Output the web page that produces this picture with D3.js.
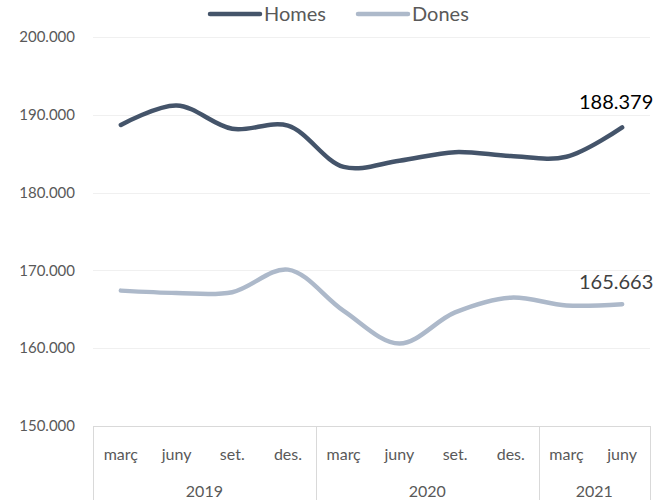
<!DOCTYPE html>
<meta charset="utf-8" />
<script src="https://d3js.org/d3.v7.min.js"></script>
<style>
  body { margin: 0; background: #fff; }
  text { font-family: Lato, "Open Sans", sans-serif; }
</style>
<body>
  <div id="chart"></div>
  <script>
    // data
    var months = ["març", "juny", "set.", "des.", "març", "juny", "set.", "des.", "març", "juny"];
    var years = ["2019", "2020", "2021"];
    var yearCounts = [4, 4, 2];
    var homes = [188700, 191200, 188200, 188600, 183300, 184100, 185200, 184700, 184600, 188379];
    var dones = [167400, 167100, 167200, 170100, 164800, 160600, 164600, 166500, 165500, 165663];
    var yTicks = [150000, 160000, 170000, 180000, 190000, 200000];

    var W = 672, H = 500;
    var mLeft = 93, mRight = 650, mTop = 37, mBottom = 426;

    var svg = d3.select("#chart").append("svg")
      .attr("width", W).attr("height", H);

    var x = d3.scaleBand().domain(d3.range(months.length)).range([mLeft, mRight]);
    var y = d3.scaleLinear().domain([150000, 200000]).range([mBottom, mTop]);

    var loc = d3.formatLocale({ decimal: ",", thousands: ".", grouping: [3], currency: ["", ""] });
    var fmt = loc.format(",");

    // gridlines
    svg.append("g").selectAll("line").data(yTicks.slice(1)).enter().append("line")
      .attr("x1", mLeft).attr("x2", mRight)
      .attr("y1", function (d) { return Math.round(y(d)) + 0.5; })
      .attr("y2", function (d) { return Math.round(y(d)) + 0.5; })
      .attr("stroke", "#f0f0f0").attr("stroke-width", 1);

    // y labels
    svg.append("g").selectAll("text").data(yTicks).enter().append("text")
      .attr("x", 75).attr("y", function (d) { return y(d); })
      .attr("dy", "0.35em").attr("text-anchor", "end")
      .style("font-size", "15px").attr("fill", "#595959")
      .text(function (d) { return fmt(d); });

    // x axis box
    var axisG = svg.append("g").attr("stroke", "#d9d9d9").attr("stroke-width", 1);
    axisG.append("line").attr("x1", mLeft).attr("x2", mRight)
      .attr("y1", mBottom + 0.5).attr("y2", mBottom + 0.5);
    var acc = 0;
    var bounds = [0];
    yearCounts.forEach(function (c) { acc += c; bounds.push(acc); });
    function boundX(b) { return b < months.length ? x(b) : mRight; }
    bounds.forEach(function (b) {
      var px = Math.round(boundX(b)) + 0.5;
      axisG.append("line").attr("x1", px).attr("x2", px)
        .attr("y1", mBottom).attr("y2", H);
    });

    svg.append("g").selectAll("text").data(months).enter().append("text")
      .attr("x", function (d, i) { return x(i) + x.bandwidth() / 2; })
      .attr("y", 454).attr("dy", "0.35em").attr("text-anchor", "middle")
      .style("font-size", "16px").attr("fill", "#595959")
      .text(function (d) { return d; });

    // year labels sit partly below the bottom edge, as in the original
    svg.append("g").selectAll("text").data(years).enter().append("text")
      .attr("x", function (d, i) { return (boundX(bounds[i]) + boundX(bounds[i + 1])) / 2; })
      .attr("y", 491).attr("dy", "0.35em").attr("text-anchor", "middle")
      .style("font-size", "16px").attr("fill", "#595959")
      .text(function (d) { return d; });

    // lines
    var line = d3.line()
      .x(function (d, i) { return x(i) + x.bandwidth() / 2; })
      .y(function (d) { return y(d); })
      .curve(d3.curveCatmullRom);

    var series = [
      { name: "Homes", values: homes, color: "#44546a", labelDy: -25, labelColor: "#000000" },
      { name: "Dones", values: dones, color: "#adb9ca", labelDy: -22, labelColor: "#404040" }
    ];

    series.forEach(function (s) {
      svg.append("path").datum(s.values)
        .attr("d", line).attr("fill", "none")
        .attr("stroke", s.color).attr("stroke-width", 4.5)
        .attr("stroke-linecap", "round").attr("stroke-linejoin", "round");
      var last = s.values.length - 1;
      svg.append("text")
        .attr("x", x(last) + x.bandwidth() / 2 - 6)
        .attr("y", y(s.values[last]) + s.labelDy)
        .attr("dy", "0.35em").attr("text-anchor", "middle")
        .style("font-size", "20px").attr("fill", s.labelColor)
        .text(fmt(s.values[last]));
    });

    // legend
    var legend = svg.append("g");
    var lx = [208, 356];
    series.forEach(function (s, i) {
      legend.append("line")
        .attr("x1", lx[i] + 2).attr("x2", lx[i] + 52).attr("y1", 14).attr("y2", 14)
        .attr("stroke", s.color).attr("stroke-width", 4.5).attr("stroke-linecap", "round");
      legend.append("text")
        .attr("x", lx[i] + 56).attr("y", 14).attr("dy", "0.35em")
        .style("font-size", "20px").attr("fill", "#595959")
        .text(s.name);
    });
  </script>
</body>
